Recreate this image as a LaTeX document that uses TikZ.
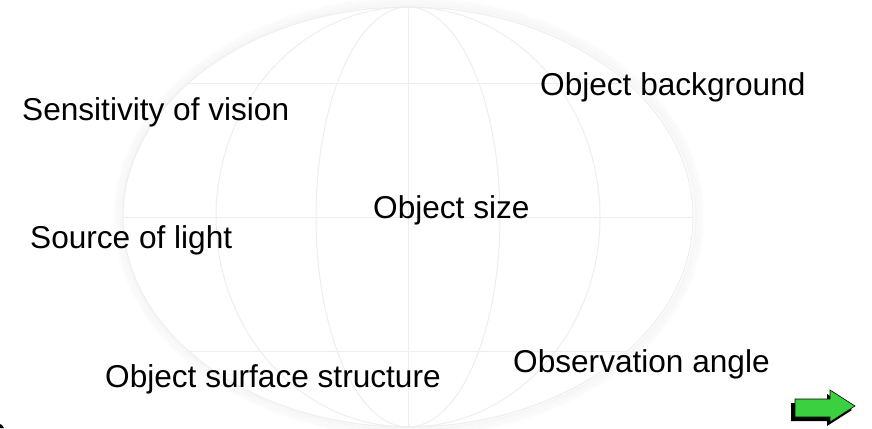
\documentclass[tikz,border=0pt]{standalone}
\usepackage{fontspec}
\setmainfont{Liberation Sans}
\definecolor{gridgray}{RGB}{238,238,238}
\definecolor{arrowgreen}{RGB}{58,208,64}
\tikzset{
  factor/.style={anchor=base west, inner sep=0pt, font=\fontsize{31.6}{38}\selectfont},
  globeline/.style={gridgray, line width=1pt}
}
\begin{document}
\begin{tikzpicture}[x=1pt,y=-1pt]
  \useasboundingbox (0,0) rectangle (872,428);
  % soft rim of the globe
  \foreach \d/\o in {9/0.012, 7/0.015, 5/0.018, 3/0.02, 1.5/0.022} {
    \draw[black, opacity=\o, line width=2.5pt] (409,217) ellipse [x radius=285+\d, y radius=210+\d];
  }
  \fill[white] (408,217) ellipse [x radius=285, y radius=210];
  \draw[globeline] (408,217) ellipse [x radius=285, y radius=210];
  % meridians
  \foreach \r in {92, 192} {
    \draw[globeline] (408,217) ellipse [x radius=\r, y radius=210];
  }
  \draw[globeline] (408,7) -- (408,427);
  % parallels
  \draw[globeline] (189,83) -- (627,83);
  \draw[globeline] (123,217) -- (693,217);
  \draw[globeline] (189,351) -- (627,351);
  % factors
  \node[factor] (vision) at (22,120) {Sensitivity of vision};
  \node[factor] (background) at (540,95) {Object background};
  \node[factor] (size) at (373,218) {Object size};
  \node[factor] (light) at (30,248) {Source of light};
  \node[factor] (surface) at (105,387) {Object surface structure};
  \node[factor] (angle) at (513,372) {Observation angle};
  % next arrow
  \fill[black] (791,403) -- (827,403) -- (827,394) -- (852,410) -- (827,426) -- (827,421) -- (791,421) -- cycle;
  \filldraw[fill=arrowgreen, draw=black, line width=0.6pt] (795,399) -- (830,399) -- (830,390) -- (855,406) -- (830,422) -- (830,417) -- (795,417) -- cycle;
  % corner mark
  \fill[black] (0,424) -- (2,425) -- (4,428) -- (0,428) -- cycle;
\end{tikzpicture}
\end{document}
